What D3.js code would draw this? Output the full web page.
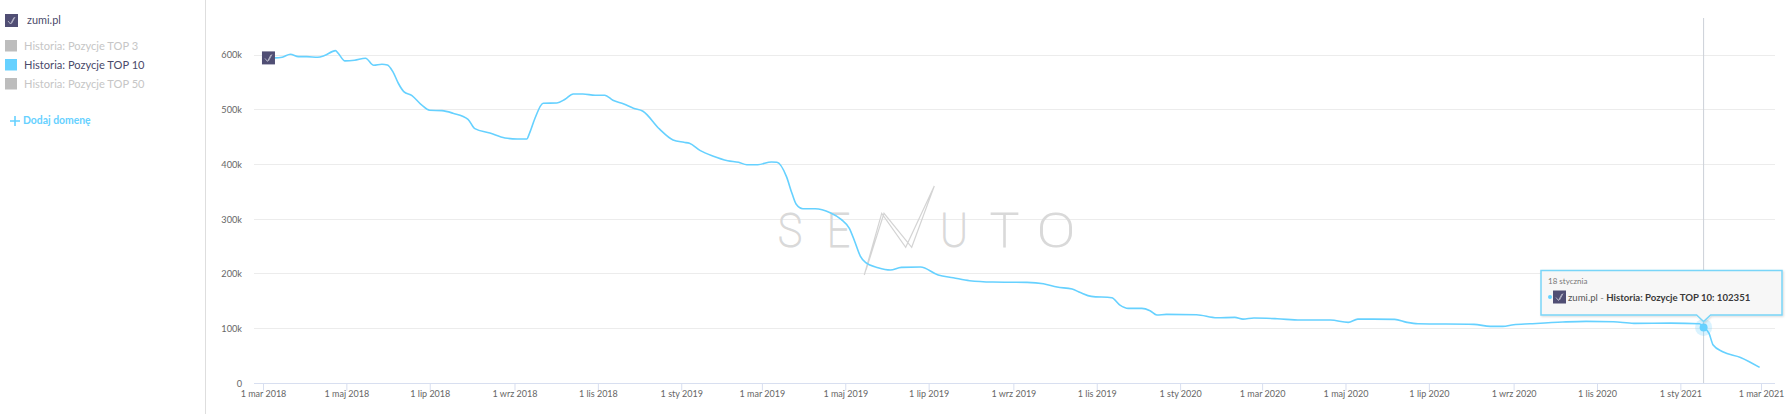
<!DOCTYPE html>
<html lang="pl">
<head>
<meta charset="utf-8">
<title>zumi.pl</title>
<script src="https://cdn.jsdelivr.net/npm/d3@7"></script>
<style>
html,body{margin:0;padding:0;background:#fff;overflow:hidden}
svg{display:block;font-family:Lato,"Open Sans",sans-serif}
</style>
</head>
<body>
<svg id="c" width="1791" height="414"></svg>
<script>
const startDate = new Date(2018, 2, 1);
const dayOffsets = [4,9,14,20,26,32,40,45,53,55,60,67,75,81,87,91,95,99,103,109,116,122,131,139,150,155,166,177,186,193,195,199,205,215,221,227,234,243,250,256,264,271,278,290,300,308,312,320,329,340,348,354,362,372,376,383,387,390,395,404,415,423,429,433,437,441,450,459,467,481,494,505,517,534,559,571,581,592,598,606,621,627,633,643,649,654,661,683,698,711,717,725,742,759,781,794,801,828,837,845,886,898,907,915,927,951,968,988,1003,1030,1051,1054,1058,1061,1068,1081,1095];
const top10Values = [594700,594700,595900,601400,597000,597000,595900,598900,608000,603200,589200,590400,594100,581300,583100,581900,569600,548400,533000,525700,508700,499000,498300,493600,482600,465400,457500,448400,446600,446600,457000,484400,511800,512400,519200,528800,528800,526500,526500,517300,510600,502700,497200,464900,444800,440500,438700,425200,415500,406900,404000,399600,399600,404500,404000,377700,347300,327800,319200,319200,311900,299800,283300,258800,232700,220500,211300,207100,212000,212600,198000,193000,187600,185200,184600,182100,176000,172400,166000,159000,156500,143100,137100,137100,132700,124900,126100,125400,119900,120600,117500,119400,118100,115700,115700,111500,117500,117000,111500,108900,107900,104200,104200,107100,108900,112100,113300,112600,109700,110200,108900,102351,91400,70000,57800,47500,29200];
const xTickMonths = [0,2,4,6,8,10,12,14,16,18,20,22,24,26,28,30,32,34,36];
const xTickLabels = ["1 mar 2018","1 maj 2018","1 lip 2018","1 wrz 2018","1 lis 2018","1 sty 2019","1 mar 2019","1 maj 2019","1 lip 2019","1 wrz 2019","1 lis 2019","1 sty 2020","1 mar 2020","1 maj 2020","1 lip 2020","1 wrz 2020","1 lis 2020","1 sty 2021","1 mar 2021"];
const yTicks = [0,100000,200000,300000,400000,500000,600000];
const yTickLabels = ["0","100k","200k","300k","400k","500k","600k"];
const legendNames = ["Historia: Pozycje TOP 3","Historia: Pozycje TOP 10","Historia: Pozycje TOP 50"];
const legendActive = [false,true,false];
const domainName = "zumi.pl";
const addDomainLabel = "Dodaj domenę";
const tooltipDay = 1054;
const tooltipDate = "18 stycznia";
const tooltipSeries = "Historia: Pozycje TOP 10: 102351";
const watermarkLetters = ["S","E","U","T","O"];

const BLUE = "#66d1ff", PURPLE = "#504e74";
const svg = d3.select("#c");
const dateOf = d => d3.timeDay.offset(startDate, d);
const x = d3.scaleTime().domain([startDate, d3.timeMonth.offset(startDate, 36)]).range([263, 1761]);
const y = d3.scaleLinear().domain([0, 600000]).range([383.4, 55]);

// sidebar divider
svg.append("line").attr("x1",205.5).attr("x2",205.5).attr("y1",0).attr("y2",414).attr("stroke","#dedede").attr("stroke-width",1);

// y axis + grid
const yAxis = d3.axisLeft(y).tickValues(yTicks).tickSize(0).tickPadding(12)
  .tickFormat((d,i)=>yTickLabels[i]);
const gy = svg.append("g").attr("transform","translate(254,0)").call(yAxis);
gy.select(".domain").remove();
gy.selectAll("text").attr("fill","#666").style("font-size","9.2px").style("font-family","Lato");
svg.append("g").selectAll("line").data(yTicks.filter(d=>d>0)).join("line")
  .attr("x1",254).attr("x2",1775).attr("y1",d=>Math.floor(y(d))+0.5).attr("y2",d=>Math.floor(y(d))+0.5)
  .attr("stroke","#ececec");

// watermark
const wmBox = [[778,24],[827,23],[940,28],[990,29],[1037,38]];
const wm = svg.append("g").attr("fill","#d9d9d9");
wm.selectAll("text").data(watermarkLetters).join("text")
  .attr("x",(d,i)=>wmBox[i][0]).attr("y",247)
  .attr("textLength",(d,i)=>wmBox[i][1]).attr("lengthAdjust","spacingAndGlyphs")
  .style("font-family","Roboto").style("font-size","48px").style("font-weight",100)
  .attr("stroke","#d9d9d9").attr("stroke-width",1.2).text(d=>d);
wm.append("path").attr("fill","none").attr("stroke","#d4d4d4").attr("stroke-width",1.2)
  .attr("d","M864.3,275L881.7,213.3L905.7,247.3L934.3,186L911.7,247.3L884,213.3L866,270");

// x axis
const xAxis = d3.axisBottom(x)
  .tickValues(xTickMonths.map(m=>d3.timeMonth.offset(startDate,m)))
  .tickSize(7).tickPadding(0.5)
  .tickFormat((d,i)=>xTickLabels[i]);
const gx = svg.append("g").attr("transform","translate(0,383.5)").call(xAxis);
gx.select(".domain").attr("d","M254,0H1775").attr("stroke","#d8dff0");
gx.selectAll(".tick line").attr("stroke","#d8dff0");
gx.selectAll("text").attr("fill","#666").style("font-size","9px").style("font-family","Lato");

// crosshair
svg.append("line").attr("x1",x(dateOf(tooltipDay))).attr("x2",x(dateOf(tooltipDay)))
  .attr("y1",18).attr("y2",383).attr("stroke","#ccd0d8").attr("stroke-width",1);

// series line
const pts = dayOffsets.map((d,i)=>({date:dateOf(d),value:top10Values[i]}));
const line = d3.line().x(d=>x(d.date)).y(d=>y(d.value)).curve(d3.curveMonotoneX);
svg.append("path").datum(pts).attr("d",line).attr("fill","none").attr("stroke",BLUE).attr("stroke-width",1.6);

// domain icon
function icon(g, px, py, s){
  const n = g.append("g").attr("transform",`translate(${px},${py}) scale(${s/13})`);
  n.append("rect").attr("width",13).attr("height",13).attr("fill",PURPLE);
  n.append("path").attr("d","M3,7L5.5,10L9,3.5M6.5,9.5L10,3").attr("fill","none").attr("stroke","#c8c8d6").attr("stroke-width",0.8);
}
icon(svg, x(dateOf(dayOffsets[0])) - 6.5, y(top10Values[0]) - 6.5, 13);

// hover marker
const mx = x(dateOf(tooltipDay)), my = y(102351);
svg.append("circle").attr("cx",mx).attr("cy",my).attr("r",8.5).attr("fill",BLUE).attr("opacity",0.25);
svg.append("circle").attr("cx",mx).attr("cy",my).attr("r",4).attr("fill",BLUE);

// tooltip
const defs = svg.append("defs");
const f = defs.append("filter").attr("id","sh").attr("x","-5%").attr("y","-20%").attr("width","110%").attr("height","150%");
f.append("feDropShadow").attr("dx",1).attr("dy",1).attr("stdDeviation",1.2).attr("flood-color","#000").attr("flood-opacity",0.15);
const tl=1541, tr=1782, tt=270.5, tb=315;
svg.append("path")
  .attr("d",`M${tl},${tt}H${tr}V${tb}H${mx+7}L${mx},${tb+6.5}L${mx-7},${tb}H${tl}Z`)
  .attr("fill","#f7f7f7").attr("stroke","#79d5f8").attr("stroke-width",1.5).attr("filter","url(#sh)");
svg.append("text").attr("x",1548).attr("y",284).attr("fill","#777").style("font-size","8px").text(tooltipDate);
svg.append("circle").attr("cx",1550).attr("cy",297).attr("r",2).attr("fill",BLUE);
icon(svg,1553,290.5,13);
const tip = svg.append("text").attr("x",1568).attr("y",300.5).attr("fill","#444").style("font-size","9.6px");
tip.append("tspan").attr("fill","#555").text(domainName);
tip.append("tspan").attr("fill","#888").text(" - ");
tip.append("tspan").attr("fill","#3a3a3a").style("font-weight",700).text(tooltipSeries);

// legend
icon(svg,5,14,13);
svg.append("text").attr("x",27).attr("y",24).attr("fill","#4a4a6a").style("font-size","10.9px").text(domainName);
const lg = svg.append("g").selectAll("g").data(legendNames).join("g")
  .attr("transform",(d,i)=>`translate(0,${40+i*19})`);
lg.append("rect").attr("x",5).attr("width",12).attr("height",11.5).attr("fill",(d,i)=>legendActive[i]?BLUE:"#bdbdbd");
lg.append("text").attr("x",24).attr("y",9.5).attr("fill",(d,i)=>legendActive[i]?"#4a4a6a":"#c6c6c6")
  .style("font-size","11.1px").text(d=>d);
svg.append("path").attr("d","M10,121H20M15,116V126").attr("stroke",BLUE).attr("stroke-width",1.6).attr("fill","none");
svg.append("text").attr("x",23).attr("y",124).attr("fill",BLUE).style("font-size","10.4px").style("font-weight",700).text(addDomainLabel);
</script>
</body>
</html>
